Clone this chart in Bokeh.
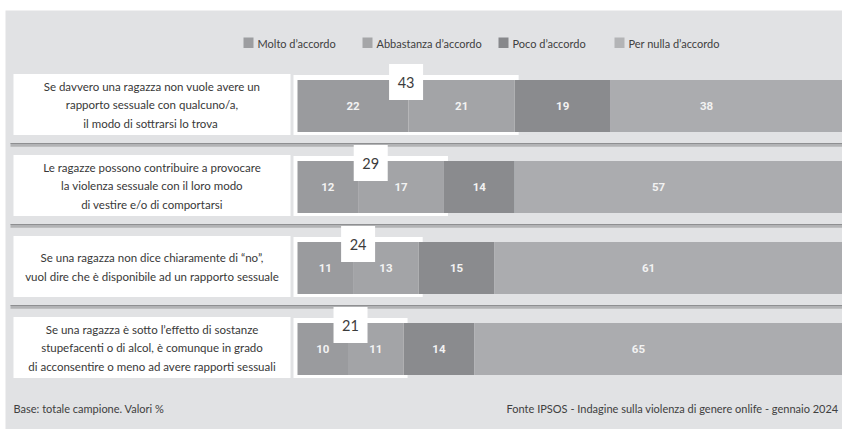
from bokeh.plotting import figure
from bokeh.models import Range1d, ColumnDataSource
from bokeh.core.properties import value
from bokeh.embed import file_html
from bokeh.resources import INLINE

# ---------------- data ----------------
categories = ["Molto d’accordo", "Abbastanza d’accordo", "Poco d’accordo", "Per nulla d’accordo"]
statements = [
    "Se davvero una ragazza non vuole avere un\nrapporto sessuale con qualcuno/a,\nil modo di sottrarsi  lo trova",
    "Le ragazze possono contribuire a provocare\nla violenza sessuale con il loro modo\ndi vestire e/o di comportarsi",
    "Se una ragazza non dice chiaramente di “no”,\nvuol dire che è disponibile ad un rapporto sessuale",
    "Se una ragazza è sotto l’effetto di sostanze\nstupefacenti o di alcol, è comunque in grado\ndi acconsentire o meno ad avere rapporti sessuali",
]
molto = [22, 12, 11, 10]
abbastanza = [21, 17, 13, 11]
poco = [19, 14, 15, 14]
per_nulla = [38, 57, 61, 65]
base_note = "Base: totale campione. Valori %"
source_note = "Fonte IPSOS - Indagine sulla violenza di genere onlife - gennaio 2024"

# ---------------- layout / style ----------------
W, H = 842, 429
K = 5.05            # px per percentage point
X0_PAGE = 297       # page x of 0 %
BG = "#e1e2e4"
COLORS = ["#9a9b9e", "#a3a4a7", "#8a8b8e", "#abacaf"]
FONT = "Lato"


def dx(page_x):
    return (page_x - X0_PAGE) / K


def dy(page_y):
    return page_y


X_START, X_END = dx(0), dx(W)
ROW0, STEP, BAR_H = 105.5, 81, 52
n = len(statements)
rows = [dy(ROW0 + STEP * i) for i in range(n)]

p = figure(width=W, height=H, x_range=Range1d(X_START, X_END), y_range=Range1d(H, 0),
           output_backend="svg", toolbar_location=None, min_border=0,
           x_axis_type=None, y_axis_type=None)
p.grid.visible = False
p.outline_line_color = None
p.background_fill_color = "white"
p.border_fill_color = "white"

# grey panel
p.quad(left=[dx(5)], right=[X_END], top=[dy(10)], bottom=[dy(H)],
       fill_color=BG, line_color=None)

# separators between rows
sep_y = [(rows[i] + rows[i + 1]) / 2 - 1.5 for i in range(n - 1)]
p.segment(x0=[dx(10)] * len(sep_y), x1=[X_END] * len(sep_y), y0=sep_y, y1=sep_y,
          line_color="#b2b3b5", line_width=3.5)
p.segment(x0=[dx(10)] * len(sep_y), x1=[X_END] * len(sep_y),
          y0=[y - 1.5 for y in sep_y], y1=[y - 1.5 for y in sep_y],
          line_color="#8e8f91", line_width=1.2)

# label boxes
p.quad(left=[dx(13)] * n, right=[dx(290)] * n,
       top=[r - 1.5 - 30.5 for r in rows], bottom=[r - 1.5 + 30.5 for r in rows],
       fill_color="white", line_color=None)
p.text(x=[dx(151.5)] * n, y=[r - 1 for r in rows], text=statements,
       text_font=value(FONT), text_font_size="11.5px", text_color="#383838",
       text_align="center", text_baseline="middle", text_line_height=1.45)

# stacked bars
series = [molto, abbastanza, poco, per_nulla]
cum = [0] * n
group = [m + a for m, a in zip(molto, abbastanza)]
# white frame around first two segments
p.quad(left=[-4 / K] * n, right=[g + 4 / K for g in group],
       top=[r - BAR_H / 2 - 5 for r in rows], bottom=[r + BAR_H / 2 + 3 for r in rows],
       fill_color="white", line_color=None)
for si, vals in enumerate(series):
    left = cum[:]
    right = [l + v for l, v in zip(left, vals)]
    draw_right = right if si < len(series) - 1 else [X_END] * n
    src = ColumnDataSource(dict(y=rows, left=left, right=draw_right,
                                xc=[(l + r) / 2 for l, r in zip(left, right)],
                                lab=[str(v) for v in vals]))
    p.hbar(y="y", left="left", right="right", height=BAR_H, source=src,
           fill_color=COLORS[si], line_color=None)
    p.text(x="xc", y="y", text="lab", source=src, text_font=value("Roboto"),
           text_font_size="11.5px", text_color="#f2f2f2", text_font_style="bold",
           text_align="center", text_baseline="middle")
    cum = right

# tabs with sum of first two segments
tab_w = 34 / K
gc = [g / 2 for g in group]
p.quad(left=[c - tab_w / 2 for c in gc], right=[c + tab_w / 2 for c in gc],
       top=[r - BAR_H / 2 - 16 for r in rows], bottom=[r - BAR_H / 2 + 20 for r in rows],
       fill_color="white", line_color=None)
p.text(x=gc, y=[r - BAR_H / 2 + 2.5 for r in rows], text=[str(g) for g in group],
       text_font=value(FONT), text_font_size="14.5px", text_color="#3c3c3c",
       text_align="center", text_baseline="middle")

# legend
leg_x = [243, 362, 498, 614]
p.quad(left=[dx(x) for x in leg_x], right=[dx(x + 10) for x in leg_x],
       top=[dy(37)] * 4, bottom=[dy(47.5)] * 4,
       fill_color=["#9c9da0", "#a5a6a8", "#87888b", "#b3b4b6"], line_color=None)
p.text(x=[dx(x + 14) for x in leg_x], y=[dy(42.5)] * 4, text=categories,
       text_font=value(FONT), text_font_size="11px", text_color="#404040",
       text_align="left", text_baseline="middle")

# footer
p.text(x=[dx(13)], y=[dy(408)], text=[base_note], text_font=value(FONT),
       text_font_size="11px", text_color="#404040", text_align="left", text_baseline="middle")
p.text(x=[dx(838)], y=[dy(408)], text=[source_note], text_font=value(FONT),
       text_font_size="11px", text_color="#404040", text_align="right", text_baseline="middle")

open("out.html", "w").write(file_html(p, INLINE))
